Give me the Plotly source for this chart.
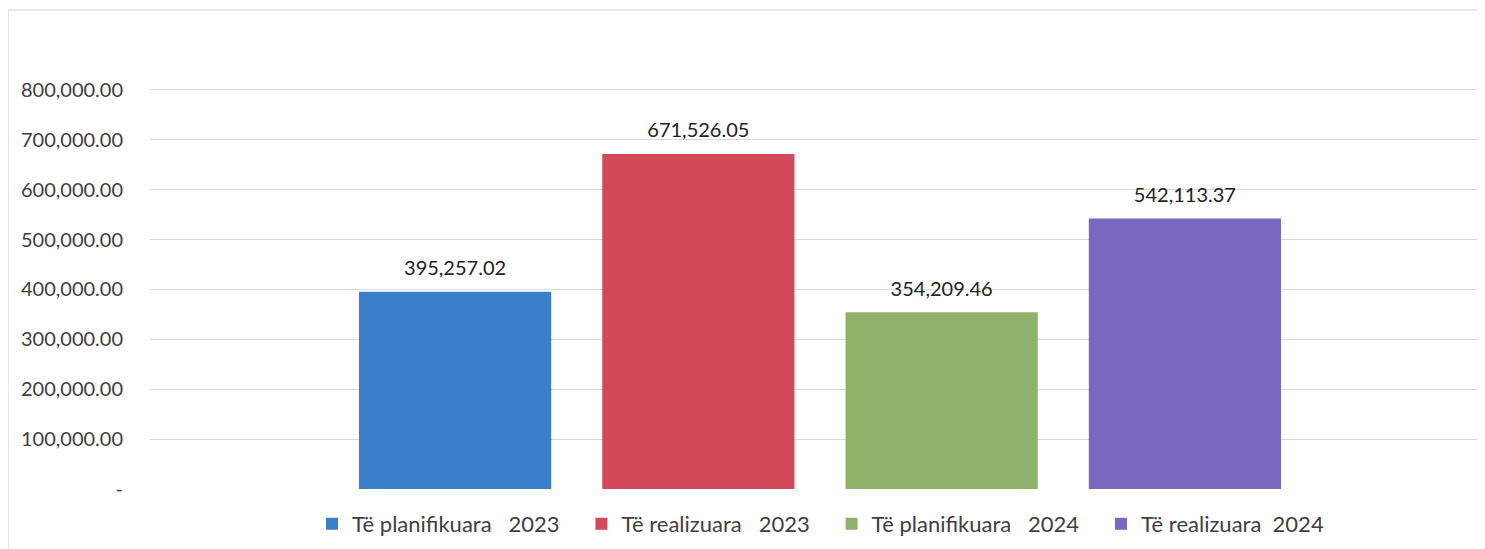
import plotly.graph_objects as go

NB = "\u00a0"
series_names = ["Të planifikuara" + NB * 3 + "2023" + NB * 3,
                "Të realizuara" + NB * 3 + "2023" + NB * 3,
                "Të planifikuara" + NB * 3 + "2024" + NB * 3,
                "Të realizuara" + NB * 2 + "2024"]
categories = ["p2023", "r2023", "p2024", "r2024"]
values = [395257.02, 671526.05, 354209.46, 542113.37]
colors = ["#3a7fc8", "#d04a5c", "#8fb26b", "#7a67c0"]
tick_vals = [0, 100000, 200000, 300000, 400000, 500000, 600000, 700000, 800000]
tick_text = ["-", "100,000.00", "200,000.00", "300,000.00", "400,000.00",
             "500,000.00", "600,000.00", "700,000.00", "800,000.00"]

FONT = "Lato, Open Sans, sans-serif"

fig = go.Figure()
for cat, name, v, c in zip(categories, series_names, values, colors):
    fig.add_trace(go.Bar(
        x=[cat], y=[v], name=name, width=0.79,
        marker=dict(color=c, line=dict(width=0)),
        hoverinfo="skip",
    ))
# value labels above bars
fig.add_trace(go.Scatter(
    x=categories, y=values, mode="markers+text",
    marker=dict(size=17, opacity=0),
    text=[f"{v:,.2f}" for v in values], textposition="top center",
    textfont=dict(size=20, color="#222222", family=FONT),
    showlegend=False, cliponaxis=False, hoverinfo="skip",
))

fig.update_layout(
    width=1485, height=549,
    margin=dict(l=142, r=13, t=2, b=68),
    paper_bgcolor="white", plot_bgcolor="white",
    barmode="overlay",
    font=dict(family=FONT, size=20, color="#404040"),
    showlegend=True,
    legend=dict(orientation="h", x=0.1218, xanchor="left", y=-0.073, yanchor="middle",
                font=dict(size=22, color="#404040", family=FONT),
                itemwidth=30, tracegroupgap=0),
    xaxis=dict(type="category", range=[-1.254, 4.213], showticklabels=False,
               showgrid=False, zeroline=False, showline=False),
    yaxis=dict(range=[0, 960000], tickvals=tick_vals, ticktext=tick_text,
               showgrid=True, gridcolor="#d9d9d9", gridwidth=1, zeroline=False,
               showline=False, ticks="", ticklabelstandoff=26,
               tickfont=dict(size=20, color="#404040", family=FONT)),
    shapes=[dict(type="rect", xref="paper", yref="paper",
                 x0=(8 - 150) / 1330, x1=1.02, y0=-0.2, y1=1.0,
                 line=dict(color="#d0d0d0", width=1), layer="below")],
)

fig.write_html("out.html")
